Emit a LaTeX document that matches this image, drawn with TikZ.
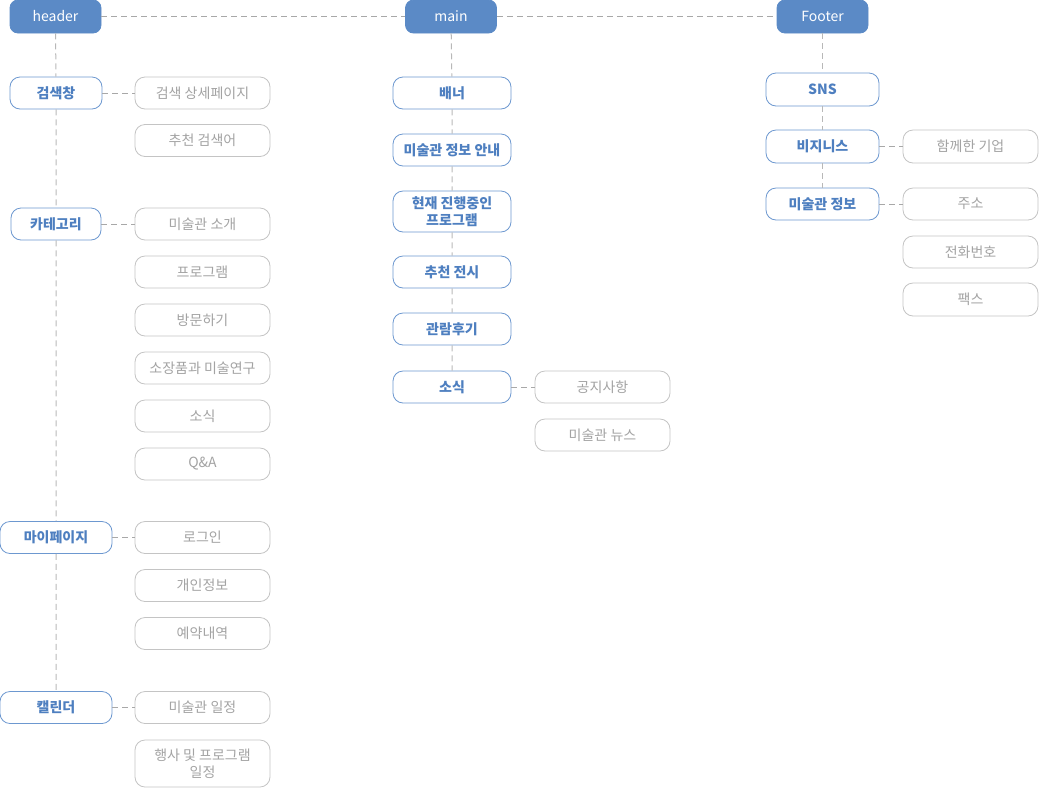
\documentclass[tikz,border=0pt]{standalone}
\usepackage{fontspec}
\setmainfont{Noto Sans CJK KR}
\definecolor{topblue}{HTML}{5B8AC6}
\definecolor{midblue}{HTML}{6D98D0}
\definecolor{midtext}{HTML}{4E7FC0}
\definecolor{subgray}{HTML}{C4C4C4}
\definecolor{subtext}{HTML}{A3A3A3}
\definecolor{linegray}{HTML}{B8B8B8}
\definecolor{hlinegray}{HTML}{A8A8A8}

\tikzset{
	every node/.style={font=\fontsize{14}{17.5}\selectfont},
	topbox/.style={draw=topblue, fill=topblue, text=white, rounded corners=8pt, minimum width=91pt, minimum height=33pt, inner sep=0pt},
	midbox/.style={draw=midblue, fill=white, text=midtext, font=\fontsize{14}{17.5}\selectfont\bfseries, rounded corners=10pt, minimum height=32pt, inner sep=0pt, align=center},
	subbox/.style={draw=subgray, fill=white, text=subtext, rounded corners=10pt, minimum width=135pt, minimum height=32pt, inner sep=0pt, align=center},
	link/.style={draw=linegray, line width=1pt, dash pattern=on 6pt off 4pt},
	toplink/.style={draw=hlinegray, line width=1pt, dash pattern=on 6pt off 4pt}
}

\begin{document}
\begin{tikzpicture}[x=1pt, y=-1pt, line width=0.8pt]
	\useasboundingbox (0,0) rectangle (1039,788);

	% top level
	\node[topbox] (hdr) at (55.5,16.5) {header};
	\node[topbox] (mainpage) at (451,16.5) {main};
	\node[topbox] (ftr) at (822.5,16.5) {Footer};

	% header column
	\node[midbox, minimum width=92pt] (search) at (56,93) {검색창};
	\node[midbox, minimum width=90pt] (category) at (56,224) {카테고리};
	\node[midbox, minimum width=112pt] (mypage) at (56,537.5) {마이페이지};
	\node[midbox, minimum width=112pt] (calendar) at (56,707.5) {캘린더};

	\node[subbox] (searchdetail) at (202.5,93) {검색 상세페이지};
	\node[subbox] (searchword) at (202.5,140.5) {추천 검색어};
	\node[subbox] (intro) at (202.5,224) {미술관 소개};
	\node[subbox] (program) at (202.5,272) {프로그램};
	\node[subbox] (visit) at (202.5,320) {방문하기};
	\node[subbox] (collection) at (202.5,368) {소장품과 미술연구};
	\node[subbox] (catnews) at (202.5,416) {소식};
	\node[subbox] (qna) at (202.5,464) {Q\&A};
	\node[subbox] (login) at (202.5,537.5) {로그인};
	\node[subbox] (privacy) at (202.5,585.5) {개인정보};
	\node[subbox] (booking) at (202.5,633.5) {예약내역};
	\node[subbox] (schedule) at (202.5,707.5) {미술관 일정};
	\node[subbox, minimum height=47pt] (events) at (202.5,763.5) {행사 및 프로그램\\일정};

	% main column
	\node[midbox, minimum width=118pt] (banner) at (452,93) {배너};
	\node[midbox, minimum width=118pt] (museuminfo) at (452,150) {미술관 정보 안내};
	\node[midbox, minimum width=118pt, minimum height=41pt] (current) at (452,211.5) {현재 진행중인\\프로그램};
	\node[midbox, minimum width=118pt] (exhibit) at (452,272) {추천 전시};
	\node[midbox, minimum width=118pt] (review) at (452,329) {관람후기};
	\node[midbox, minimum width=118pt] (news) at (452,387) {소식};

	\node[subbox] (notice) at (602.5,387) {공지사항};
	\node[subbox] (museumnews) at (602.5,435) {미술관 뉴스};

	% footer column
	\node[midbox, minimum width=113pt, minimum height=33pt] (sns) at (822.5,89.5) {SNS};
	\node[midbox, minimum width=113pt, minimum height=33pt] (business) at (822.5,146.5) {비지니스};
	\node[midbox, minimum width=113pt] (footinfo) at (822.5,204) {미술관 정보};

	\node[subbox, minimum height=33pt] (partner) at (970.5,146.5) {함께한 기업};
	\node[subbox] (address) at (970.5,204) {주소};
	\node[subbox] (phone) at (970.5,252) {전화번호};
	\node[subbox, minimum height=33pt] (fax) at (970.5,299.5) {팩스};

	% connectors
	\draw[toplink] (hdr) -- (mainpage) -- (ftr);
	\draw[link] (hdr) -- (search) -- (category) -- (mypage) -- (calendar);
	\draw[link] (mainpage) -- (banner) -- (museuminfo) -- (current) -- (exhibit) -- (review) -- (news);
	\draw[link] (ftr) -- (sns) -- (business) -- (footinfo);
	\draw[toplink] (search) -- (searchdetail);
	\draw[toplink] (category) -- (intro);
	\draw[toplink] (mypage) -- (login);
	\draw[toplink] (calendar) -- (schedule);
	\draw[toplink] (news) -- (notice);
	\draw[toplink] (business) -- (partner);
	\draw[toplink] (footinfo) -- (address);
\end{tikzpicture}
\end{document}
